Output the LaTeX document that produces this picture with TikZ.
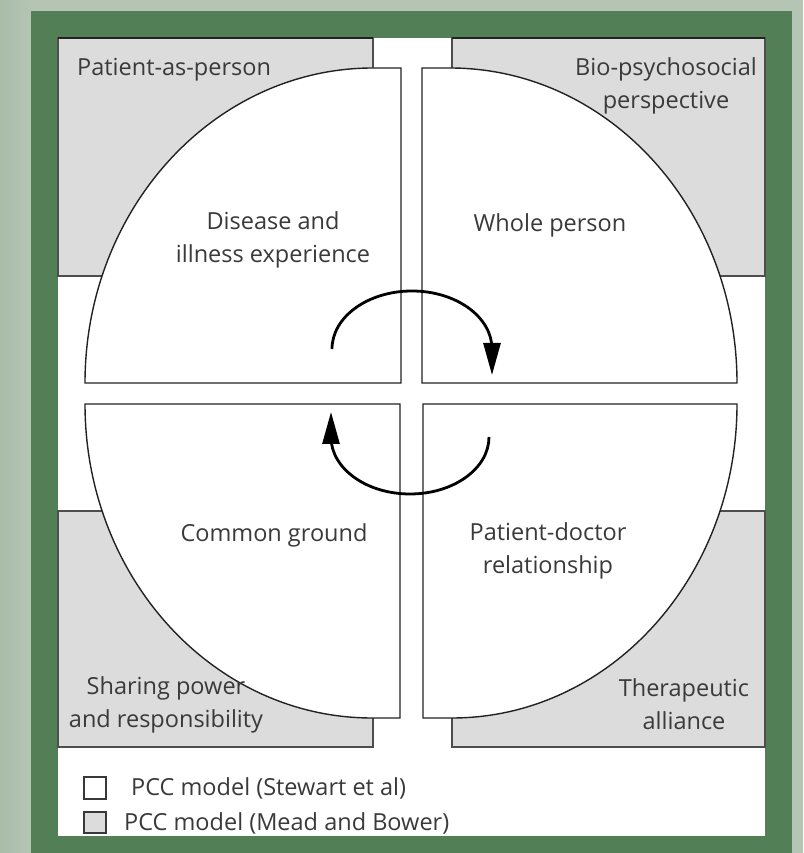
\documentclass[tikz,border=0pt]{standalone}
\usepackage{fontspec}
\setmainfont{Open Sans}
\usetikzlibrary{arrows.meta}
\definecolor{outerbg}{HTML}{B5C5B4}
\definecolor{outerleft}{HTML}{A9BDA9}
\definecolor{framegreen}{HTML}{537F56}
\definecolor{boxgray}{HTML}{DCDCDC}
\definecolor{txtgray}{HTML}{3A3A3A}
\definecolor{linegray}{HTML}{222222}
\tikzset{
  graybox/.style={fill=boxgray, draw=linegray!80, line width=1.2pt},
  quarter/.style={fill=white, draw=linegray, line width=1.4pt, line join=miter},
  lbl/.style={text=txtgray, font=\fontsize{23.5}{33}\selectfont, align=center, inner sep=0pt},
  legbox/.style={draw=linegray!90, line width=1.4pt},
  cyclearrow/.style={draw=black, line width=2.8pt, -{Triangle[length=32pt,width=17pt]}},
}
\begin{document}
\begin{tikzpicture}[x=1pt,y=1pt]
\useasboundingbox (0,0) rectangle (803,853);
% outer background
\fill[outerbg] (0,0) rectangle (803,853);
\shade[left color=outerleft, right color=outerbg] (0,0) rectangle (31,853);
% green frame and white panel
\fill[framegreen] (31,0) rectangle (792,842);
\fill[white] (58,17) rectangle (765,815);
% gray boxes (Mead and Bower)
\path[graybox] (58,577) rectangle (373,815);
\path[graybox] (452,577) rectangle (765,815);
\path[graybox] (58,106) rectangle (373,342);
\path[graybox] (452,106) rectangle (765,342);
\draw[linegray, line width=1.8pt] (58,815) -- (373,815);
\draw[linegray, line width=1.8pt] (452,815) -- (765,815);
% quarters (Stewart et al)
\path[quarter] (85,470) arc[start angle=180, end angle=90, x radius=288, y radius=315] -- (401,785) -- (401,470) -- cycle;
\path[quarter] (422,470) -- (422,785) -- (450,785) arc[start angle=90, end angle=0, x radius=287, y radius=315] -- cycle;
\path[quarter] (85,449) -- (400,449) -- (400,135) -- (372,135) arc[start angle=270, end angle=180, x radius=287, y radius=314] -- cycle;
\path[quarter] (423,449) -- (737,449) arc[start angle=0, end angle=-90, x radius=285, y radius=314] -- (423,135) -- cycle;
% labels
\node[lbl, anchor=west] (pap) at (77,783) {Patient-as-person};
\node[lbl] (bio) at (666,767) {Bio-psychosocial\\perspective};
\node[lbl] (die) at (273,613) {Disease and\\illness experience};
\node[lbl] (whp) at (550,628) {Whole person};
\node[lbl] (cmg) at (274,318) {Common ground};
\node[lbl] (pdr) at (548,302) {Patient-doctor\\relationship};
\node[lbl] (spr) at (166,148) {Sharing power\\and responsibility};
\node[lbl] (tha) at (684,149) {Therapeutic\\alliance};
% cycle arrows
\coordinate (a1s) at (332,504);
\coordinate (a2s) at (489,416);
\draw[cyclearrow] (a1s) arc[start angle=180, end angle=0, x radius=80, y radius=58] -- ++(0,-26);
\draw[cyclearrow] (a2s) arc[start angle=0, end angle=-180, x radius=79, y radius=57] -- ++(0,25);
% legend
\draw[legbox, fill=white] (84,54) rectangle (106,76);
\node[lbl, anchor=west] (leg1) at (131,65) {PCC model (Stewart et al)};
\draw[legbox, fill=boxgray] (84,20) rectangle (106,41);
\node[lbl, anchor=west] (leg2) at (124,30) {PCC model (Mead and Bower)};
% bottom frame band drawn over the clipped legend
\fill[framegreen] (31,0) rectangle (792,17);
\end{tikzpicture}
\end{document}
